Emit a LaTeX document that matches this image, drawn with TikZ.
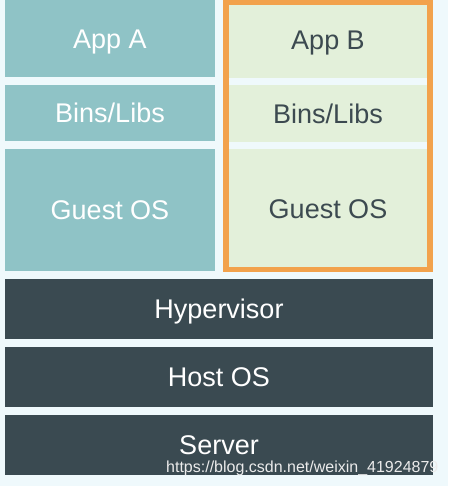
\documentclass[tikz,border=0pt]{standalone}
\usepackage{fontspec}
\setmainfont{Liberation Sans}

\definecolor{pagebg}{HTML}{EFF9FC}
\definecolor{vmteal}{HTML}{8FC3C6}
\definecolor{vmgreen}{HTML}{E3F0DA}
\definecolor{hostdark}{HTML}{3A4A51}
\definecolor{vmorange}{HTML}{F2A24C}
\definecolor{labelgray}{HTML}{3C4A50}

\tikzset{
	layer/.style={inner sep=0pt, text height=19.3pt, text depth=0pt, font=\fontsize{27}{31}\selectfont},
	vmA/.style={layer, fill=vmteal, text=white, minimum width=210pt},
	vmB/.style={layer, fill=vmgreen, text=labelgray, minimum width=204pt},
	host/.style={layer, fill=hostdark, text=white, minimum width=428pt, minimum height=60pt}
}

\begin{document}
\begin{tikzpicture}[x=1pt,y=-1pt]
		\fill[pagebg] (0,0) rectangle (448,486);
		\useasboundingbox (0,0) rectangle (448,486);

		% virtual machine A
		\node[vmA, minimum height=77pt] (appA) at (110,38.5) {App A};
		\node[vmA, minimum height=56pt] (libsA) at (110,113) {Bins/Libs};
		\node[vmA, minimum height=122pt] (guestA) at (110,210) {Guest OS};

		% virtual machine B
		\node[vmB, minimum height=75.5pt] (appB) at (328,40.25) {App B};
		\node[vmB, minimum height=57pt] (libsB) at (328,113.5) {Bins/Libs};
		\node[vmB, minimum height=120.5pt] (guestB) at (328,209.25) {Guest OS};
		\draw[vmorange, line width=5.5pt] (appB.north west) rectangle (guestB.south east);

		% shared layers
		\node[host] (hyper) at (219,309) {Hypervisor};
		\node[host] (hostos) at (219,377) {Host OS};
		\node[host] (server) at (219,445) {Server};

		\node[anchor=base west, inner sep=0pt, text=white!92!black, font=\fontsize{16}{18}\selectfont] (mark) at (166,472) {https://blog.csdn.net/weixin\_41924879};
	\end{tikzpicture}
\end{document}
